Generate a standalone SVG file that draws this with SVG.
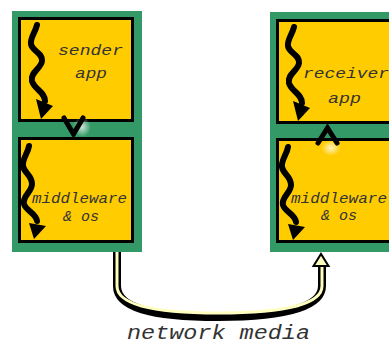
<svg xmlns="http://www.w3.org/2000/svg" width="389" height="345" viewBox="0 0 389 345">
  <style>
    .host { fill: #339966; }
    .layer { fill: #ffcc00; stroke: #000; stroke-width: 3; }
    .flow { fill: none; stroke: #000; stroke-width: 6; stroke-linecap: round; stroke-linejoin: round; }
    .tip { fill: #000; }
    .hop { fill: none; stroke: #000; stroke-width: 5; stroke-linejoin: miter; stroke-linecap: round; }
    .lbl { font-family: "Liberation Mono", "DejaVu Sans Mono", monospace; font-style: italic; font-size: 14px; fill: #333; text-anchor: middle; }
    .media { font-size: 20px; }
  </style>
  <defs>
    <!-- wavy thread-of-control arrows, drawn at the sender's coordinates -->
    <g id="wave-app">
      <path class="flow" d="M37,25 C35,33 30,38 31,44 C32,51 43,53 42,61 C41,69 30,72 32,81 C34,89 45,92 45,101"/>
      <polygon class="tip" points="36,99 53,106 41,119"/>
    </g>
    <g id="wave-os">
      <path class="flow" d="M29,146 C28,153 22,159 23,166 C24,173 32,175 32,184 C32,192 22,196 24,204 C26,211 36,213 37,221"/>
      <polygon class="tip" points="29,223 46,226 34,239"/>
    </g>
    <radialGradient id="glow">
      <stop offset="0" stop-color="#fff" stop-opacity="0.75"/>
      <stop offset="1" stop-color="#fff" stop-opacity="0"/>
    </radialGradient>
  </defs>

  <!-- sending host -->
  <g id="sender-host">
    <rect class="host" x="12" y="11" width="130" height="241"/>
  </g>
  <g id="sender-app">
    <rect class="layer" x="19.5" y="18.5" width="113" height="102"/>
    <use href="#wave-app"/>
    <text class="lbl" x="90.5" y="55" textLength="65" lengthAdjust="spacingAndGlyphs">sender</text>
    <text class="lbl" x="91" y="78" textLength="32" lengthAdjust="spacingAndGlyphs">app</text>
  </g>
  <g id="sender-os">
    <rect class="layer" x="19.5" y="138.5" width="113" height="103"/>
    <use href="#wave-os"/>
    <text class="lbl" x="79.5" y="203" textLength="95" lengthAdjust="spacingAndGlyphs">middleware</text>
    <text class="lbl" x="81" y="221" textLength="36" lengthAdjust="spacingAndGlyphs">&amp; os</text>
  </g>

  <!-- receiving host -->
  <g id="receiver-host">
    <rect class="host" x="270" y="12" width="125" height="240"/>
  </g>
  <g id="receiver-app">
    <rect class="layer" x="277.5" y="20.5" width="120" height="102"/>
    <use href="#wave-app" x="257" y="2"/>
    <text class="lbl" x="346" y="78" textLength="86" lengthAdjust="spacingAndGlyphs">receiver</text>
    <text class="lbl" x="344.5" y="103" textLength="33" lengthAdjust="spacingAndGlyphs">app</text>
  </g>
  <g id="receiver-os">
    <rect class="layer" x="277.5" y="139.5" width="120" height="102"/>
    <use href="#wave-os" x="259" y="1"/>
    <text class="lbl" x="339" y="203" textLength="96" lengthAdjust="spacingAndGlyphs">middleware</text>
    <text class="lbl" x="339" y="220" textLength="36" lengthAdjust="spacingAndGlyphs">&amp; os</text>
  </g>

  <!-- connectors -->
  <g id="connectors">
    <ellipse cx="82" cy="127" rx="9" ry="10" fill="url(#glow)"/>
    <polyline class="hop" points="64,118 73.5,134 83,118"/>
    <ellipse cx="331" cy="148" rx="10" ry="8" fill="url(#glow)"/>
    <polyline class="hop" points="318,143 327.5,128 337,143"/>

    <!-- network link: outlined pipe ending in an open arrowhead -->
    <path d="M117,252 V286 C117,307 150,317 218,317 C286,317 322,307 322,286 V264" fill="none" stroke="#000" stroke-width="8"/>
    <path d="M117,252 V286 C117,304 150,313 218,313 C286,313 322,304 322,286 V262" fill="none" stroke="#ffffc0" stroke-width="3"/>
    <polygon points="313.5,266 321,254 328.5,266" fill="#ffffc0" stroke="#000" stroke-width="2" stroke-linejoin="miter"/>
  </g>

  <text class="lbl media" x="218.5" y="339" textLength="183" lengthAdjust="spacingAndGlyphs">network media</text>
</svg>
